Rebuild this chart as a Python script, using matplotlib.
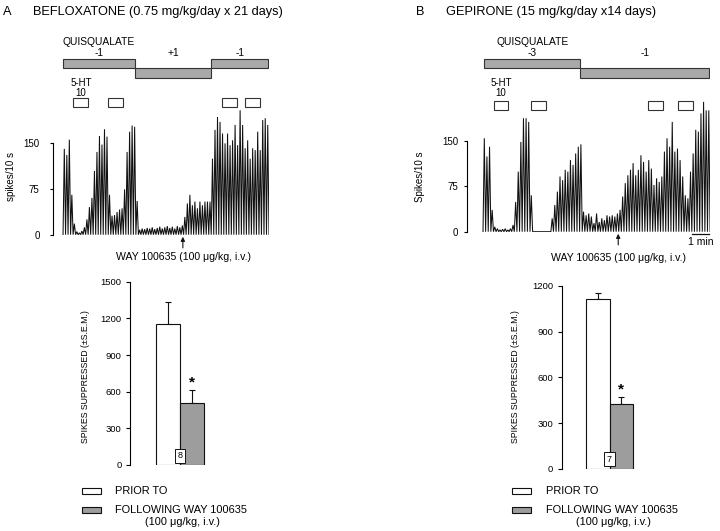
import numpy as np
import matplotlib
matplotlib.use('Agg')
import matplotlib.pyplot as plt
from matplotlib.patches import Rectangle

plt.rcParams['font.family'] = ['Liberation Sans', 'DejaVu Sans']

W, H = 720, 531

# ------------------------------------------------------------------ data
# Firing-rate traces (spikes / 10 s), one value per 10-s bin
trace_a = [140, 130, 155, 65,
           18, 5, 3, 6, 12,
           25, 45, 60, 104, 135, 161, 147, 172, 160, 65,
           31, 32, 37, 41, 43, 74, 135, 168, 178, 176, 55,
           8, 10, 9, 11, 10, 12, 9, 11, 13, 10, 12, 14, 11, 13, 10, 14, 12, 15,
           29, 51, 65, 48, 54, 43, 54, 48, 54, 54, 54,
           124, 171, 192, 184, 165, 149, 165, 146, 154, 179, 146, 203, 179,
           141, 154, 124, 141, 138, 168, 138, 187, 190, 179]
trace_b = [154, 124, 140, 36,
           8, 5, 3, 4, 5, 3, 5, 11,
           49, 99, 148, 187, 187, 181, 60,
           0, 0, 0, 0, 0, 0, 0,
           22, 44, 66, 91, 85, 102, 99, 118, 110, 129, 140, 144,
           33, 27, 30, 25, 14, 30, 16, 22, 19, 27, 25, 27, 25, 30, 36,
           58, 80, 93, 102, 113, 93, 102, 126, 115, 99, 118, 104, 77, 88, 82,
           91, 132, 154, 140, 181, 132, 137, 118, 91, 60, 55, 99, 129, 168,
           165, 195, 214, 200, 200]
trace_ticks = [0, 75, 150]

# Quisqualate ejection periods (bin edges), current labels and level (1 = upper)
quis_a_edges = [0, 28.7, 59, 81.7]
quis_a_doses = ['-1', '+1', '-1']
quis_a_level = [1, 0, 1]
quis_b_edges = [0.5, 37.2, 86.7]
quis_b_doses = ['-3', '-1']
quis_b_level = [1, 0]

# 5-HT (10 nA) applications (start, end) in bins
ht_a = [(4.1, 10.1), (17.9, 23.9), (63.3, 69.3), (72.5, 78.5)]
ht_b = [(4.2, 9.7), (18.4, 24.0), (63.3, 68.9), (74.8, 80.3)]

# WAY 100635 injection time (bin)
way_a = 47.7
way_b = 51.8
minute_bar_b = (80.0, 86.7)

# Bar charts: spikes suppressed (+/- S.E.M.)
groups = ['PRIOR TO', 'FOLLOWING WAY 100635']
bar_a = [1150, 505]
err_a = [180, 110]
n_a = '8'
bar_b = [1110, 425]
err_b = [45, 45]
n_b = '7'
ticks_bar_a = [0, 300, 600, 900, 1200, 1500]
ticks_bar_b = [0, 300, 600, 900, 1200]

GRAY_Q = '#a9a9a9'
GRAY_BAR = '#9d9d9d'
INK = '#111111'

fig = plt.figure(figsize=(W / 100, H / 100), dpi=100)


def add_ax(x0, y0, x1, y1):
    return fig.add_axes([x0 / W, 1 - y1 / H, (x1 - x0) / W, (y1 - y0) / H])


def sawtooth(vals, peak=0.5):
    xs, ys = [], []
    for i, v in enumerate(vals):
        xs += [i, i + peak]
        ys += [0, v]
    xs.append(len(vals))
    ys.append(0)
    return xs, ys


def trace_panel(px_left, px_right, y_zero, px_per_unit, xlim, vals, ylabel,
                label_x, pad, way, way_text_off, scale=None):
    top = 98
    ax = add_ax(px_left, top, px_right, y_zero)
    xs, ys = sawtooth(vals)
    ax.plot(xs, ys, color=INK, lw=0.75, solid_joinstyle='miter')
    ax.set_xlim(*xlim)
    ax.set_ylim(0, (y_zero - top) / px_per_unit)
    for s in ['top', 'right', 'bottom']:
        ax.spines[s].set_visible(False)
    ax.spines['left'].set_bounds(0, 150)
    ax.spines['left'].set_linewidth(0.8)
    ax.set_xticks([])
    ax.set_yticks(trace_ticks)
    ax.tick_params(axis='y', length=2.4, width=0.8, pad=pad, labelsize=7)
    ax.patch.set_visible(False)
    fig.text(label_x / W, 1 - 177 / H, ylabel, rotation=90, ha='center',
             va='center', fontsize=7)
    ax.annotate('', xy=(way, 0), xytext=(0, -9.5), textcoords='offset points',
                arrowprops=dict(arrowstyle='-|>', lw=0.8, color=INK,
                                mutation_scale=6, shrinkA=0, shrinkB=1.5),
                annotation_clip=False)
    ax.annotate('WAY 100635 (100 \u03bcg/kg, i.v.)', xy=(way, 0),
                xytext=(0.5, -way_text_off), textcoords='offset points',
                ha='center', va='center', fontsize=7.6, annotation_clip=False)
    if scale is not None:
        yb = -4.3
        ax.plot(list(scale), [yb, yb], color=INK, lw=0.9, clip_on=False)
        ax.text(np.mean(scale), -16.5, '1 min', ha='center', va='center',
                fontsize=7.5, clip_on=False)
    return ax


def event_panel(px_left, px_right, xlim, edges, doses, levels, ht, box_y):
    ax = add_ax(px_left, 30, px_right, 112)
    ax.set_xlim(*xlim)
    ax.set_ylim(112, 30)
    ax.axis('off')
    for i, d in enumerate(doses):
        y0 = 58.7 if levels[i] == 1 else 68.2
        ax.add_patch(Rectangle((edges[i], y0), edges[i + 1] - edges[i], 9.5,
                               fc=GRAY_Q, ec='#333333', lw=0.8))
        cx = (edges[i] + edges[i + 1]) / 2
        ax.text(cx, 53, d, ha='center', va='center', fontsize=7.4)
    ax.text((edges[0] + edges[1]) / 2, 42, 'QUISQUALATE', ha='center',
            va='center', fontsize=7.4)
    for s, e in ht:
        ax.add_patch(Rectangle((s, box_y), e - s, 8.3, fc='white',
                               ec='#333333', lw=0.8))
    c = (ht[0][0] + ht[0][1]) / 2
    ax.text(c, 83, '5-HT', ha='center', va='center', fontsize=7)
    ax.text(c, 93, '10', ha='center', va='center', fontsize=7)
    return ax


def bar_panel(x0, y0, x1, y1, xlim, ylim, vals, errs, ticks, nlabel, nval,
              label_x):
    ax = add_ax(x0, y0, x1, y1)
    ax.bar([0, 1], vals, width=1, color=['white', GRAY_BAR], edgecolor=INK,
           lw=0.8, zorder=2)
    ax.errorbar([0, 1], vals, yerr=[[0, 0], errs], fmt='none', ecolor=INK,
                elinewidth=0.8, capsize=2.4, capthick=0.8, zorder=1)
    ax.annotate('*', xy=(1, vals[1] + errs[1]), xytext=(0, 0.5),
                textcoords='offset points', ha='center', va='bottom',
                fontsize=11, fontweight='bold')
    ax.text(0.5, nval, nlabel, ha='center', va='center', fontsize=6.5,
            zorder=3, bbox=dict(boxstyle='square,pad=0.28', fc='white',
                                ec=INK, lw=0.7))
    ax.set_xlim(*xlim)
    ax.set_ylim(*ylim)
    for s in ['top', 'right', 'bottom']:
        ax.spines[s].set_visible(False)
    ax.spines['left'].set_linewidth(0.8)
    ax.set_xticks([])
    ax.set_yticks(ticks)
    ax.tick_params(axis='y', length=3, width=0.8, pad=3.1, labelsize=6.8)
    ax.patch.set_visible(False)
    fig.text(label_x / W, 1 - 377 / H, 'SPIKES SUPPRESSED (\u00b1S.E.M.)',
             rotation=90, ha='center', va='center', fontsize=6.3)
    return ax


# ---------------- panel A
xlim_a = (-4, 82)
trace_panel(53, 269, 234.7, 0.613, xlim_a, trace_a, 'spikes/10 s', 11, 7.2,
            way_a, 16)
event_panel(53, 269, xlim_a, quis_a_edges, quis_a_doses, quis_a_level, ht_a,
            98.5)
bar_panel(130, 281.7, 215, 465, (-1.583, 1.958), (0, 1500), bar_a, err_a,
          ticks_bar_a, n_a, 76, 86)

# ---------------- panel B
xlim_b = (-6.25, 87)
trace_panel(466.7, 710.1, 231.7, 0.6067, xlim_b, trace_b, 'Spikes/10 s', 420,
            3.6, way_b, 18.7, scale=minute_bar_b)
event_panel(466.7, 710.1, xlim_b, quis_b_edges, quis_b_doses, quis_b_level,
            ht_b, 101.5)
bar_panel(561.7, 285.7, 645, 469, (-1.52, 2.0), (0, 1200), bar_b, err_b,
          ticks_bar_b, n_b, 63.5, 515)

# ---------------- overlay: titles and legends (pixel coordinates)
ov = add_ax(0, 0, W, H)
ov.set_xlim(0, W)
ov.set_ylim(H, 0)
ov.axis('off')
ov.patch.set_visible(False)

ov.text(7.3, 12, 'A', ha='center', va='center', fontsize=9.2)
ov.text(33, 12, 'BEFLOXATONE (0.75 mg/kg/day x 21 days)', ha='left',
        va='center', fontsize=9.2)
ov.text(420, 12, 'B', ha='center', va='center', fontsize=9.2)
ov.text(446, 12, 'GEPIRONE (15 mg/kg/day x14 days)', ha='left', va='center',
        fontsize=9.2)

for bx, tx in [(81.7, 115), (511.7, 545.7)]:
    ov.add_patch(Rectangle((bx, 488.3), 19, 5.8, fc='white', ec=INK, lw=0.8))
    ov.add_patch(Rectangle((bx, 506.7), 19, 5.8, fc=GRAY_BAR, ec=INK, lw=0.8))
    ov.text(tx, 490.7, groups[0], ha='left', va='center', fontsize=7.9)
    ov.text(tx, 510, groups[1], ha='left', va='center', fontsize=7.9)
    ov.text(tx + 67.5, 521.7, '(100 \u03bcg/kg, i.v.)', ha='center',
            va='center', fontsize=7.9)

fig.savefig('out.png', dpi=100)
